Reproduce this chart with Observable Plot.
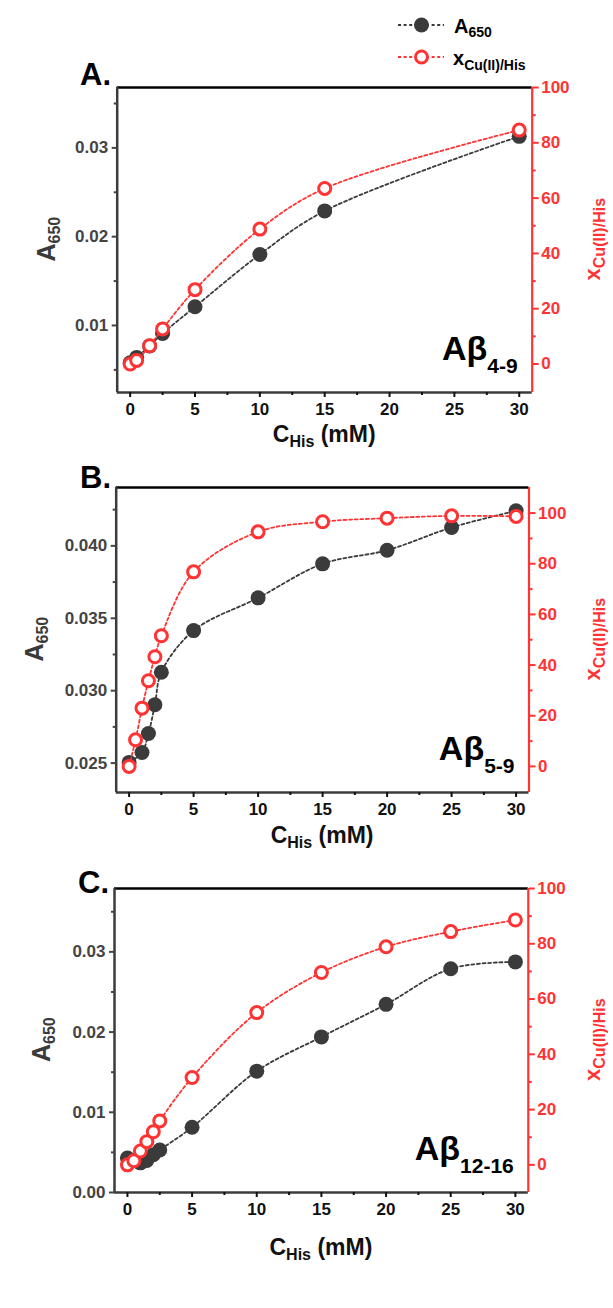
<!DOCTYPE html>
<html>
<head>
<meta charset="utf-8">
<script src="https://cdn.jsdelivr.net/npm/d3@7"></script>
<script src="https://cdn.jsdelivr.net/npm/@observablehq/plot@0.6"></script>
<style>
  body { margin: 0; background: #fff; }
  #page { position: relative; width: 613px; height: 1308px; overflow: hidden; background: #fff; }
  #page svg { position: absolute; left: 0; overflow: visible; }
</style>
</head>
<body>
<div id="page"></div>
<script>
// ---- Data: His concentration (mM), absorbance at 650 nm, Cu(II)-His fraction (%) ----
// Panel A: Aβ4-9
const hisA     = [0, 0.5, 1.5, 2.5, 5, 10, 15, 30];
const a650A    = [0.0058, 0.0064, 0.0077, 0.0091, 0.0121, 0.0180, 0.0229, 0.0313];
const xCuHisA  = [0, 1.3, 6.6, 12.7, 26.9, 48.8, 63.5, 84.6];

// Panel B: Aβ5-9 (absorbance has no reading at 0.5 mM)
const hisB_abs = [0, 1, 1.5, 2, 2.5, 5, 10, 15, 20, 25, 30];
const a650B    = [0.02505, 0.02573, 0.02704, 0.02903, 0.03127, 0.03415, 0.03641, 0.03876, 0.0397, 0.04127, 0.04242];
const hisB     = [0, 0.5, 1, 1.5, 2, 2.5, 5, 10, 15, 20, 25, 30];
const xCuHisB  = [0, 10.5, 23.0, 33.8, 43.3, 51.6, 76.8, 92.6, 96.6, 98.0, 98.9, 98.7];

// Panel C: Aβ12-16
const hisC     = [0, 0.5, 1, 1.5, 2, 2.5, 5, 10, 15, 20, 25, 30];
const a650C    = [0.0043, 0.0040, 0.0037, 0.0040, 0.0047, 0.0053, 0.00813, 0.01513, 0.0194, 0.02346, 0.0279, 0.02875];
const xCuHisC  = [0, 1.5, 5.0, 8.4, 12.0, 15.9, 31.6, 55.1, 69.6, 78.9, 84.4, 88.6];

// Axis ticks
const xTicks = [0, 5, 10, 15, 20, 25, 30];
const xMinor = [2.5, 7.5, 12.5, 17.5, 22.5, 27.5];
const fracTicks = [0, 20, 40, 60, 80, 100];
const fracMinor = [10, 30, 50, 70, 90];

// ---- Styling ----
const FONT = "'Liberation Sans', Arial, sans-serif";
const RED = "#ff3333";
const DARK = "#3b3b3b";
const DASH = "3,2.6";
const W = 613, MT = 30, MB = 80;
const X_DOMAIN = [-1, 31];

const page = document.getElementById("page");

// text with optional subscripts: parts = [[string, fontSize, dy], ...]
function richText(sel, x, y, parts, {anchor = "start", fill = "#000", rotate = 0} = {}) {
  const t = sel.append("text")
    .attr("text-anchor", anchor)
    .attr("font-family", FONT)
    .attr("font-weight", "bold")
    .attr("fill", fill)
    .attr("transform", `translate(${x},${y}) rotate(${rotate})`);
  for (const [s, size, dy] of parts) {
    t.append("tspan").attr("font-size", size).attr("dy", dy || 0).text(s);
  }
  return t;
}

function panel(p) {
  const [fl, ft, fr, fb] = p.frame;
  const H = fb - ft + MT + MB;
  const base = {
    width: W, height: H,
    marginLeft: fl, marginRight: W - fr, marginTop: MT, marginBottom: MB,
    x: {domain: X_DOMAIN, label: null},
    style: {background: "transparent", fontFamily: FONT, overflow: "visible"}
  };
  const absRows = p.hisAbs.map((x, i) => ({x, y: p.abs[i]}));
  const fracRows = p.hisFrac.map((x, i) => ({x, y: p.frac[i]}));

  // absorbance layer (left axis, frame)
  const left = Plot.plot({
    ...base,
    y: {domain: p.absDomain, label: null},
    marks: [
      Plot.ruleY([p.absDomain[1]], {stroke: "#000", strokeWidth: 2.5}),
      Plot.ruleY([p.absDomain[0]], {stroke: DARK, strokeWidth: 2.5}),
      Plot.ruleX([X_DOMAIN[0]], {stroke: DARK, strokeWidth: 2.5}),
      Plot.axisX({ticks: xTicks, tickSize: 5, tickPadding: 5, fontSize: 17, fontWeight: "bold", color: "#111", strokeWidth: 2, label: null}),
      Plot.axisX({ticks: xMinor, tickSize: 3, tickFormat: () => "", color: "#111", strokeWidth: 2, label: null}),
      Plot.axisY({ticks: p.absTicks, tickFormat: d3.format(p.absFormat), tickSize: 5, tickPadding: 4, fontSize: 17, fontWeight: "bold", color: "#444", strokeWidth: 2, label: null}),
      Plot.axisY({ticks: p.absMinor, tickSize: 3, tickFormat: () => "", color: "#444", strokeWidth: 2, label: null}),
      Plot.line(absRows, {x: "x", y: "y", stroke: DARK, strokeWidth: 1.8, strokeDasharray: DASH, curve: "catmull-rom"}),
      Plot.dot(absRows, {x: "x", y: "y", r: 7.5, fill: DARK, stroke: "none"})
    ]
  });
  left.style.top = (ft - MT) + "px";
  page.appendChild(left);

  // Cu(II)/His fraction layer (right axis)
  const right = Plot.plot({
    ...base,
    x: {domain: X_DOMAIN, axis: null},
    y: {domain: p.fracDomain, label: null},
    marks: [
      Plot.ruleX([X_DOMAIN[1]], {stroke: RED, strokeWidth: 2.2}),
      Plot.axisY({anchor: "right", ticks: fracTicks, tickSize: 6, tickPadding: 3, fontSize: 17, fontWeight: "bold", color: RED, strokeWidth: 2, label: null}),
      Plot.axisY({anchor: "right", ticks: fracMinor, tickSize: 3, tickFormat: () => "", color: RED, strokeWidth: 2, label: null}),
      Plot.line(fracRows, {x: "x", y: "y", stroke: RED, strokeWidth: 1.8, strokeDasharray: DASH, curve: "catmull-rom"}),
      Plot.dot(fracRows, {x: "x", y: "y", r: 6, fill: "white", stroke: RED, strokeWidth: 3})
    ]
  });
  right.style.top = (ft - MT) + "px";
  page.appendChild(right);
}

// ---- Panels ----
const panels = [
  {
    letter: "A.", letterX: 80, letterY: 85, peptide: "4-9",
    frame: [116.7, 86.7, 531.7, 391.7],
    hisAbs: hisA, abs: a650A, hisFrac: hisA, frac: xCuHisA,
    absDomain: [0.00245, 0.0368], absTicks: [0.01, 0.02, 0.03], absMinor: [0.005, 0.015, 0.025, 0.035], absFormat: ".2f",
    fracDomain: [-10.3, 100],
    yTitleX: 55, xTitleY: 442
  },
  {
    letter: "B.", letterX: 80, letterY: 488, peptide: "5-9",
    frame: [115.7, 486.7, 528.5, 791.7],
    hisAbs: hisB_abs, abs: a650B, hisFrac: hisB, frac: xCuHisB,
    absDomain: [0.02297, 0.04403], absTicks: [0.025, 0.030, 0.035, 0.040], absMinor: [0.0275, 0.0325, 0.0375, 0.0425], absFormat: ".3f",
    fracDomain: [-10.3, 110.1],
    yTitleX: 43, xTitleY: 843
  },
  {
    letter: "C.", letterX: 78, letterY: 893, peptide: "12-16",
    frame: [114, 887.7, 527.8, 1191.7],
    hisAbs: hisC, abs: a650C, hisFrac: hisC, frac: xCuHisC,
    absDomain: [0, 0.0379], absTicks: [0, 0.01, 0.02, 0.03], absMinor: [0.005, 0.015, 0.025, 0.035], absFormat: ".2f",
    fracDomain: [-10, 100],
    yTitleX: 50, xTitleY: 1255
  }
];
panels.forEach(panel);

// ---- Titles, annotations and legend (page coordinates) ----
const ann = d3.select(page).append("svg")
  .attr("width", W).attr("height", 1308).style("top", "0px");

for (const p of panels) {
  const [fl, ft, fr, fb] = p.frame;
  const cy = (ft + fb) / 2;
  richText(ann, p.letterX, p.letterY, [[p.letter, 31]]);
  richText(ann, p.yTitleX, cy, [["A", 25], ["650", 16, 5]], {anchor: "middle", fill: "#3a3a3a", rotate: -90});
  richText(ann, 600, cy, [["x", 22], ["Cu(II)/His", 16, 5]], {anchor: "middle", fill: RED, rotate: -90});
  richText(ann, (fl + fr) / 2, p.xTitleY, [["C", 23], ["His", 16, 5], [" (mM)", 23, -5]], {anchor: "middle", fill: "#111"});
  richText(ann, fr - 14, fb - 32, [["Aβ", 34], [p.peptide, 21, 13]], {anchor: "end", fill: "#000"});
}

// legend
ann.append("line").attr("x1", 398).attr("x2", 444).attr("y1", 25).attr("y2", 25)
  .attr("stroke", DARK).attr("stroke-width", 1.8).attr("stroke-dasharray", DASH);
ann.append("circle").attr("cx", 421.5).attr("cy", 25).attr("r", 7.5).attr("fill", DARK);
ann.append("line").attr("x1", 398).attr("x2", 444).attr("y1", 57).attr("y2", 57)
  .attr("stroke", RED).attr("stroke-width", 1.8).attr("stroke-dasharray", DASH);
ann.append("circle").attr("cx", 421.5).attr("cy", 57).attr("r", 6).attr("fill", "white")
  .attr("stroke", RED).attr("stroke-width", 3);
richText(ann, 454, 33, [["A", 20], ["650", 14, 4]]);
richText(ann, 453, 65, [["x", 20], ["Cu(II)/His", 14, 5]]);
</script>
</body>
</html>
